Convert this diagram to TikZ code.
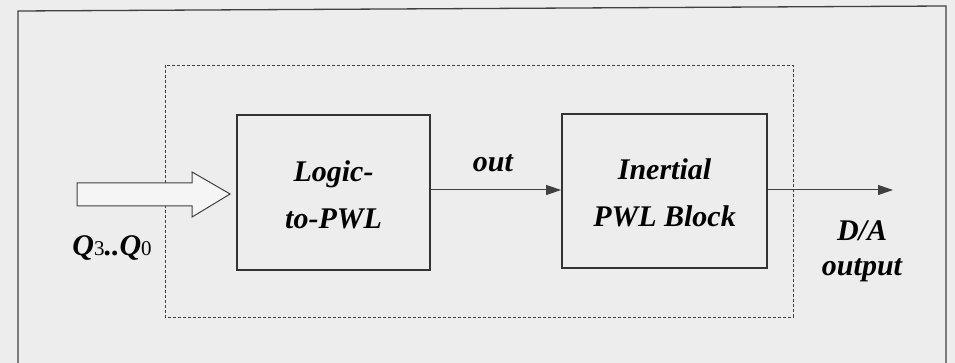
\documentclass[tikz,border=0pt]{standalone}
\usepackage{fontspec}
\setmainfont{Liberation Serif}
\usetikzlibrary{arrows.meta,calc}
\begin{document}
\begin{tikzpicture}[x=1pt,y=-1pt,
  lbl/.style={font=\fontsize{30}{33}\selectfont\bfseries\itshape, align=center, inner sep=0pt},
  blk/.style={draw=black!80, line width=1.8pt, fill=none},
  conn/.style={draw=black!75, line width=1pt, -{Triangle[length=15pt,width=10pt]}},
  frame/.style={draw=black!75, line width=1.3pt},
  dashbox/.style={draw=black!75, line width=0.9pt, dash pattern=on 3pt off 2pt},
  hollow/.style={draw=black!75, line width=1pt, fill=black!4}]
\useasboundingbox (0,0) rectangle (955,363);
\fill[black!7] (0,0) rectangle (955,363);
% outer frame
\draw[frame] (18,363) -- (18,11) -- (946,6) -- (946,363);
% dashed box
\draw[dashbox] (165,65) rectangle (793,317);
% blocks
\node[blk, minimum width=193pt, minimum height=155pt] (lg) at (333.5,192.5) {};
\node[lbl] (lgt) at (333.5,195) {Logic-\\[14pt]to-PWL};
\node[blk, minimum width=205pt, minimum height=154pt] (in) at (664.5,191) {};
\node[lbl] (int) at (664.5,193) {Inertial\\[14pt]PWL Block};
% hollow input arrow
\coordinate (tip) at ($(lg.west)+(-6,1.5)$);
\draw[hollow] ($(tip)+(-153,-11)$) -- ($(tip)+(-38,-11)$) -- ($(tip)+(-38,-22)$) -- (tip)
  -- ($(tip)+(-38,23)$) -- ($(tip)+(-38,12)$) -- ($(tip)+(-153,12)$) -- cycle;
% connectors
\draw[conn] (lg.east |- 0,190) -- (in.west |- 0,190);
\coordinate (dao) at (893,190);
\draw[conn] (in.east |- 0,190) -- (dao);
% labels
\node[lbl] (outl) at (493,163) {out};
\node[lbl] (da) at (862,251) {D/A\\[2pt]output};
\node[lbl, anchor=base] (q) at (112,255) {Q{\mdseries\upshape\fontsize{21}{21}\selectfont 3}..Q{\mdseries\upshape\fontsize{21}{21}\selectfont 0}};
\end{tikzpicture}
\end{document}
